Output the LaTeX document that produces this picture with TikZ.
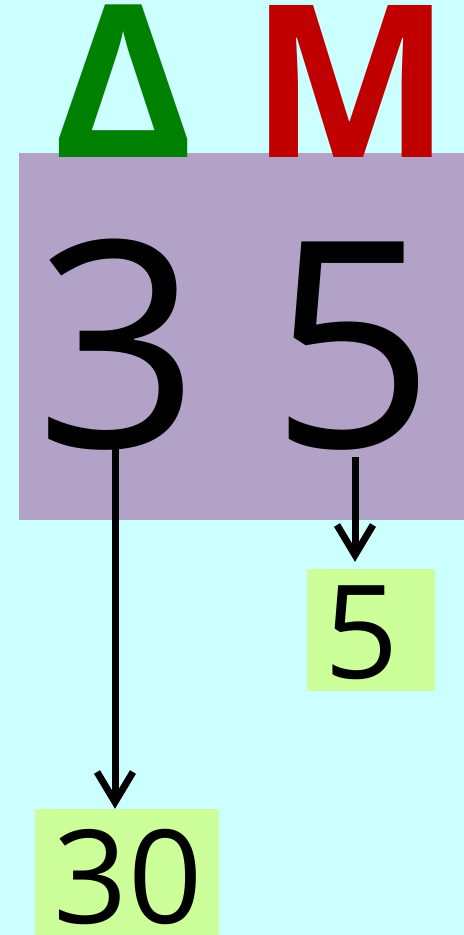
\documentclass[tikz,border=0pt]{standalone}
\usepackage{fontspec}
\setmainfont{Open Sans}
\usetikzlibrary{arrows.meta}
\definecolor{bg}{HTML}{CCFFFF}
\definecolor{purp}{HTML}{B3A2C7}
\definecolor{lgreen}{HTML}{CCFF99}
\definecolor{dgreen}{HTML}{008000}
\definecolor{dred}{HTML}{C00000}
\tikzset{
  hdr/.style={anchor=base,inner sep=0pt,font=\fontsize{213bp}{213bp}\selectfont\bfseries},
  big/.style={anchor=base,inner sep=0pt,font=\fontsize{288bp}{288bp}\selectfont},
  res/.style={anchor=base,inner sep=0pt,font=\fontsize{130bp}{130bp}\selectfont},
  resbox/.style={fill=lgreen,inner sep=0pt,draw=none},
  flow/.style={line width=7bp,-{Straight Barb[length=30bp,width=36bp]}}
}
\begin{document}
\begin{tikzpicture}[x=1bp,y=-1bp]
\fill[bg] (0,0) rectangle (464,935);
\useasboundingbox (0,0) rectangle (464,935);
\fill[purp] (19,153) rectangle (464,520);
\node[hdr,text=dgreen] (delta) at (124,157) {Δ};
\node[hdr,text=dred] (mu) at (351,157) {M};
\node[big] (three) at (118,447) {3};
\node[big] (five) at (353,447) {5};
\node[resbox,minimum width=128bp,minimum height=122bp] (b5) at (371,630) {};
\node[res] (t5) at (362,678) {5};
\node[resbox,minimum width=184bp,minimum height=126bp] (b30) at (127,872) {};
\node[res] (t30) at (128,923) {30};
\coordinate (a1) at (115,445);
\coordinate (a2) at (355,457);
\draw[flow] (a1) -- (a1 |- b30.north);
\draw[flow] (a2) -- ([yshift=7bp]a2 |- b5.north);
\end{tikzpicture}
\end{document}
